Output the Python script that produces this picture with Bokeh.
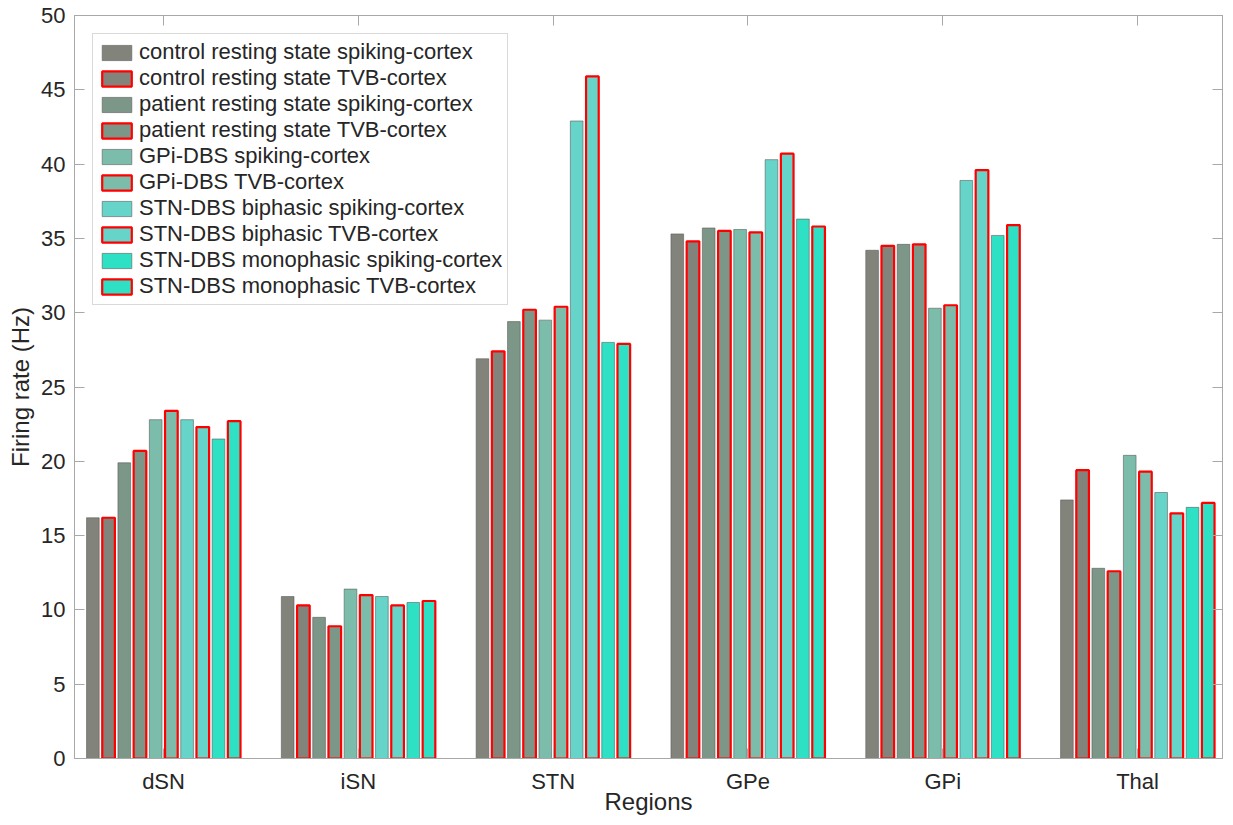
from bokeh.plotting import figure
from bokeh.models import (ColumnDataSource, FixedTicker, LinearAxis, Legend,
                          LegendItem, Range1d)
from bokeh.embed import file_html
from bokeh.resources import INLINE

regions = ["dSN", "iSN", "STN", "GPe", "GPi", "Thal"]

ctrl_spiking = [16.2, 10.9, 26.9, 35.3, 34.2, 17.4]
ctrl_tvb = [16.2, 10.3, 27.4, 34.8, 34.5, 19.4]
pat_spiking = [19.9, 9.5, 29.4, 35.7, 34.6, 12.8]
pat_tvb = [20.7, 8.9, 30.2, 35.5, 34.6, 12.6]
gpi_spiking = [22.8, 11.4, 29.5, 35.6, 30.3, 20.4]
gpi_tvb = [23.4, 11.0, 30.4, 35.4, 30.5, 19.3]
bi_spiking = [22.8, 10.9, 42.9, 40.3, 38.9, 17.9]
bi_tvb = [22.3, 10.3, 45.9, 40.7, 39.6, 16.5]
mono_spiking = [21.5, 10.5, 28.0, 36.3, 35.2, 16.9]
mono_tvb = [22.7, 10.6, 27.9, 35.8, 35.9, 17.2]

y_ticks = [0, 5, 10, 15, 20, 25, 30, 35, 40, 45, 50]

series_labels = [
    "control resting state spiking-cortex",
    "control resting state TVB-cortex",
    "patient resting state spiking-cortex",
    "patient resting state TVB-cortex",
    "GPi-DBS spiking-cortex",
    "GPi-DBS TVB-cortex",
    "STN-DBS biphasic spiking-cortex",
    "STN-DBS biphasic TVB-cortex",
    "STN-DBS monophasic spiking-cortex",
    "STN-DBS monophasic TVB-cortex",
]
series_values = [ctrl_spiking, ctrl_tvb, pat_spiking, pat_tvb, gpi_spiking,
                 gpi_tvb, bi_spiking, bi_tvb, mono_spiking, mono_tvb]
fill_colors = ["#82837a", "#82837a", "#7c9688", "#7c9688", "#7cbcaa",
               "#7cbcaa", "#66d4c8", "#66d4c8", "#2ee0c4", "#2ee0c4"]

FONT = "Liberation Sans"
AXIS_COL = "#a8a8a8"
TEXT_COL = "#262626"

p = figure(width=1225, height=817, output_backend="svg", toolbar_location=None,
           x_range=Range1d(0.543, 6.436), y_range=Range1d(0, 50),
           min_border_left=74, min_border_top=15, min_border_right=3,
           min_border_bottom=0)
p.xgrid.grid_line_color = None
p.ygrid.grid_line_color = None
p.outline_line_color = AXIS_COL
p.background_fill_color = "white"

slot = 0.0806
bar_w = 0.065
x_base = list(range(1, len(regions) + 1))

items = []
for j, (lab, vals, col) in enumerate(zip(series_labels, series_values, fill_colors)):
    off = (j - 4.5) * slot
    src = ColumnDataSource(dict(x=[xb + off for xb in x_base], top=vals))
    if j % 2 == 1:
        r = p.vbar(x="x", top="top", width=bar_w, bottom=0, source=src,
                   fill_color=col, line_color="#ff0000", line_width=2.2)
    else:
        r = p.vbar(x="x", top="top", width=bar_w, bottom=0, source=src,
                   fill_color=col, line_color="#5e5e5e", line_alpha=0.6,
                   line_width=1)
    items.append(LegendItem(label=lab, renderers=[r]))


def style_axis(ax):
    ax.axis_line_color = AXIS_COL
    ax.major_tick_line_color = AXIS_COL
    ax.minor_tick_line_color = None
    ax.major_tick_in = 10
    ax.major_tick_out = 0
    ax.major_label_text_font = FONT
    ax.major_label_text_font_size = "22px"
    ax.major_label_text_color = TEXT_COL
    ax.axis_label_text_font = FONT
    ax.axis_label_text_font_size = "24px"
    ax.axis_label_text_font_style = "normal"
    ax.axis_label_text_color = TEXT_COL


xaxis = p.xaxis[0]
style_axis(xaxis)
xaxis.ticker = FixedTicker(ticks=x_base)
xaxis.major_label_overrides = {i + 1: r for i, r in enumerate(regions)}
xaxis.axis_label = "Regions"
xaxis.major_label_standoff = 10
xaxis.axis_label_standoff = -9

yaxis = p.yaxis[0]
style_axis(yaxis)
yaxis.ticker = FixedTicker(ticks=y_ticks)
yaxis.axis_label = "Firing rate (Hz)"
yaxis.major_label_standoff = 9
yaxis.axis_label_standoff = 4

top_ax = LinearAxis(ticker=FixedTicker(ticks=x_base))
style_axis(top_ax)
top_ax.major_label_overrides = {t: "" for t in x_base}
top_ax.major_label_text_font_size = "1px"
top_ax.major_label_standoff = 0
p.add_layout(top_ax, "above")

right_ax = LinearAxis(ticker=FixedTicker(ticks=y_ticks))
style_axis(right_ax)
right_ax.major_label_overrides = {t: "" for t in y_ticks}
right_ax.major_label_text_font_size = "1px"
right_ax.major_label_standoff = 0
p.add_layout(right_ax, "right")

legend = Legend(items=items, location="top_left")
legend.margin = 18
legend.padding = 5
legend.spacing = 0
legend.label_text_font = FONT
legend.label_text_font_size = "22px"
legend.label_text_color = TEXT_COL
legend.label_height = 20
legend.glyph_width = 37
legend.glyph_height = 19
legend.label_standoff = 4
legend.border_line_color = "#b3b3b3"
legend.border_line_width = 1
legend.background_fill_color = "white"
legend.background_fill_alpha = 1.0
p.add_layout(legend)

open("out.html", "w").write(file_html(p, INLINE))
